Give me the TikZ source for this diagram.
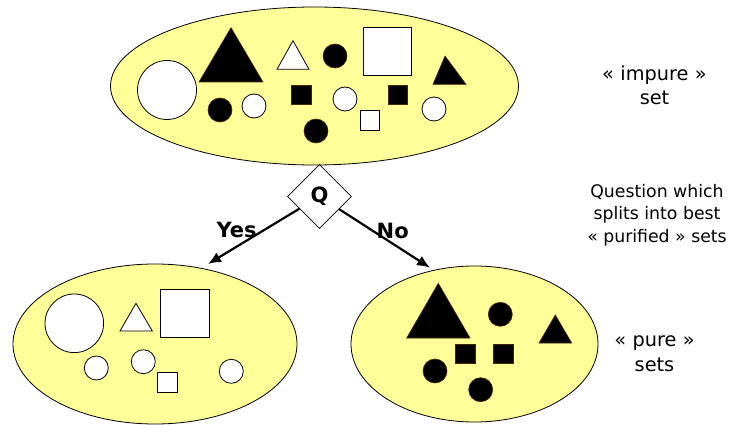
\documentclass[tikz,border=0pt]{standalone}
\usepackage{fontspec}
\setmainfont{DejaVu Sans}
\usetikzlibrary{shapes.geometric,arrows.meta}
\definecolor{setyellow}{RGB}{255,255,153}
\definecolor{shapeedge}{RGB}{70,40,0}
\tikzset{
  setbox/.style={ellipse, draw=black, line width=0.8pt, fill=setyellow, inner sep=0pt},
  wshape/.style={draw=black, fill=white, line width=0.8pt},
  bshape/.style={draw=shapeedge, fill=black, line width=0.6pt},
  qbox/.style={diamond, draw=black, fill=white, line width=0.8pt, minimum width=64pt, minimum height=64pt, inner sep=0pt, font=\fontsize{21}{25}\selectfont\bfseries},
  branch/.style={line width=2.2pt, -{Latex[length=13pt,width=11pt]}},
  blabel/.style={font=\fontsize{21}{25}\selectfont\bfseries, inner sep=0pt},
  note/.style={align=center, font=\fontsize{17.3}{22.5}\selectfont, inner sep=0pt, anchor=base},
  bignote/.style={align=center, font=\fontsize{19.3}{24.2}\selectfont, inner sep=0pt, anchor=base}
}
\begin{document}
\begin{tikzpicture}[x=1pt, y=-1pt]
\useasboundingbox (0,0) rectangle (729,425);
% ellipses
\node[setbox, minimum width=408pt, minimum height=158pt] (top) at (314.5,86) {};
\node[setbox, minimum width=284pt, minimum height=160pt] (left) at (155,344) {};
\node[setbox, minimum width=247pt, minimum height=156pt] (right) at (474.5,344) {};
% top set shapes
\draw[wshape] (167,90) circle[radius=29.5pt];
\fill[bshape] (231,27.7) -- (263,82) -- (199,82) -- cycle;
\draw[wshape] (293,40.7) -- (309,69.3) -- (277,69.3) -- cycle;
\draw[bshape] (335,56) circle[radius=12pt];
\draw[wshape] (363,27.3) rectangle (411,75.3);
\draw[bshape] (445,56) -- (466,84.3) -- (433,84.3) -- cycle;
\draw[bshape] (220,110) circle[radius=12pt];
\draw[wshape] (254,106) circle[radius=12pt];
\draw[bshape] (291,85.3) rectangle (311,104.7);
\draw[wshape] (345,99) circle[radius=12pt];
\draw[wshape] (360,110.3) rectangle (379,130);
\draw[bshape] (388,85.3) rectangle (407,104.7);
\draw[wshape] (434,109) circle[radius=12pt];
\draw[bshape] (316,131) circle[radius=12pt];
% left set shapes
\draw[wshape] (74.3,323.3) circle[radius=29.3pt];
\draw[wshape] (136,303.3) -- (152.3,331) -- (120,331) -- cycle;
\draw[wshape] (160.7,289.3) rectangle (209.3,337.3);
\draw[wshape] (96.3,368) circle[radius=12pt];
\draw[wshape] (143.3,361.7) circle[radius=12pt];
\draw[wshape] (157.3,372.3) rectangle (177.3,392.3);
\draw[wshape] (231.3,371.3) circle[radius=12pt];
% right set shapes
\draw[bshape] (438.3,283.3) -- (470,338) -- (406.7,338) -- cycle;
\draw[bshape] (500.3,314.3) circle[radius=12pt];
\draw[bshape] (555.3,315) -- (571.7,343) -- (539,343) -- cycle;
\draw[bshape] (455.7,344) rectangle (475.3,363.7);
\draw[bshape] (493.7,344) rectangle (513.7,363.7);
\draw[bshape] (435,371) circle[radius=12pt];
\draw[bshape] (480.7,389.7) circle[radius=12pt];
% question
\node[qbox] (q) at (319.5,196.5) {Q};
\coordinate (yesend) at (208,264);
\coordinate (noend) at (430,267.7);
\draw[branch] (q) -- (yesend);
\draw[branch] (q) -- (noend);
\node[blabel] (yes) at (236.7,230) {Yes};
\node[blabel] (no) at (392.7,231) {No};
% notes
\node[bignote] (impure) at (654.5,105) {«\,\,impure\,\,»\\set};
\node[note] (question) at (657,242.5) {Question which\\splits into best\\« purified » sets};
\node[bignote] (pure) at (654.5,371) {«\,\,pure\,\,»\\sets};
\end{tikzpicture}
\end{document}
